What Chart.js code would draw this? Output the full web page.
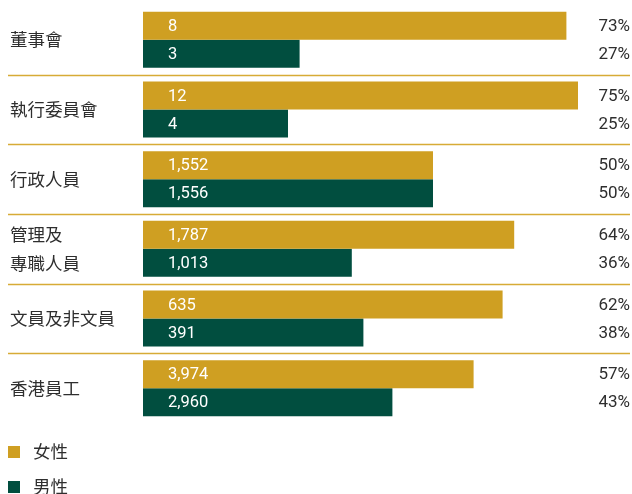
<!DOCTYPE html>
<html>
<head>
<meta charset="utf-8">
<script src="https://cdn.jsdelivr.net/npm/chart.js@4"></script>
<style>
  html, body { margin: 0; padding: 0; background: #fff; }
  #wrap { position: relative; width: 632px; height: 494px; }
</style>
</head>
<body>
<div id="wrap"><canvas id="chart" width="632" height="494"></canvas></div>
<script>
const categories = ["董事會", "執行委員會", "行政人員", ["管理及", "專職人員"], "文員及非文員", "香港員工"];
const seriesLabels = ["女性", "男性"];
const femaleCounts = [8, 12, 1552, 1787, 635, 3974];
const maleCounts = [3, 4, 1556, 1013, 391, 2960];
const femalePct = [73, 75, 50, 64, 62, 57];
const malePct = [27, 25, 50, 36, 38, 43];

const gold = "#CF9F22";
const green = "#014E3F";
const textColor = "#2e2e2e";
const numFont = "Roboto, 'Noto Sans', sans-serif";
const cjkFont = "'Noto Sans CJK TC', 'Noto Sans CJK SC', sans-serif";

// separators between groups, inside bar value labels, % on the right, legend
const extras = {
    id: "extras",
    afterDatasetsDraw(chart){
        const ctx = chart.ctx;
        const y = chart.scales.y;
        const half = (y.getPixelForValue(1) - y.getPixelForValue(0)) / 2;
        ctx.save();
        ctx.strokeStyle = "#D7AB36";
        ctx.lineWidth = 1.5;
        for(let i=0; i<categories.length-1; i++){
            let py = Math.round(y.getPixelForValue(i) + half) + 0.5;
            ctx.beginPath();
            ctx.moveTo(8, py);
            ctx.lineTo(630, py);
            ctx.stroke();
        }
        const counts = [femaleCounts, maleCounts];
        const pcts = [femalePct, malePct];
        ctx.textBaseline = "middle";
        chart.data.datasets.forEach((ds, d)=>{
            chart.getDatasetMeta(d).data.forEach((bar, i)=>{
                ctx.font = "16.5px " + numFont;
                ctx.fillStyle = "#ffffff";
                ctx.textAlign = "left";
                ctx.fillText(counts[d][i].toLocaleString("en-US"), bar.base + 25, bar.y + 1);
                ctx.font = "17px " + numFont;
                ctx.fillStyle = textColor;
                ctx.textAlign = "right";
                ctx.fillText(pcts[d][i] + "%", 630, bar.y + 1);
            });
        });
        // legend, stacked
        ctx.textAlign = "left";
        ctx.font = "17.5px " + cjkFont;
        chart.data.datasets.forEach((ds, d)=>{
            let top = 446 + d*35;
            ctx.fillStyle = ds.backgroundColor;
            ctx.fillRect(8, top, 12, 12);
            ctx.fillStyle = textColor;
            ctx.fillText(ds.label, 33, top + 5);
        });
        ctx.restore();
    }
};

new Chart(document.getElementById("chart"), {
    type: "bar",
    data: {
        labels: categories,
        datasets: [
            {label: seriesLabels[0], data: femalePct, backgroundColor: gold},
            {label: seriesLabels[1], data: malePct, backgroundColor: green}
        ]
    },
    options: {
        indexAxis: "y",
        responsive: false,
        animation: false,
        categoryPercentage: 0.805,
        barPercentage: 1.0,
        layout: {padding: {left: 10, right: 25, top: 5, bottom: 71}},
        plugins: {legend: {display: false}, tooltip: {enabled: false}},
        scales: {
            x: {display: false, min: 0, max: 80},
            y: {
                grid: {display: false},
                border: {display: false},
                afterFit: s => { s.width = 133; s.paddingTop = 0; s.paddingBottom = 0; },
                ticks: {
                    crossAlign: "far",
                    color: textColor,
                    font: {family: cjkFont, size: 17.5, lineHeight: 1.65},
                    padding: 0
                }
            }
        }
    },
    plugins: [extras]
});
</script>
</body>
</html>
